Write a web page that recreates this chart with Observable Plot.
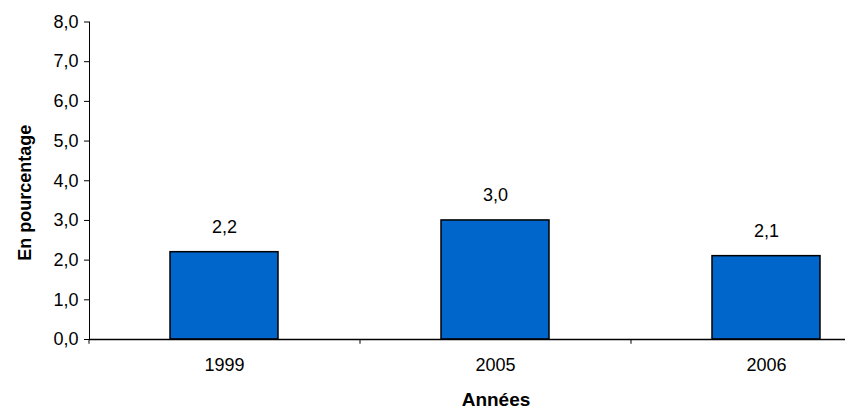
<!DOCTYPE html>
<html>
<head>
<meta charset="utf-8">
<script src="https://cdn.jsdelivr.net/npm/d3@7"></script>
<script src="https://cdn.jsdelivr.net/npm/@observablehq/plot@0.6"></script>
<style>
  html, body { margin: 0; padding: 0; background: #fff; overflow: hidden; }
  #chart { width: 845px; height: 416px; overflow: hidden; }
  #chart svg { font-family: "Liberation Sans", Arial, sans-serif; max-width: none !important; }
</style>
</head>
<body>
<div id="chart"></div>
<script>
// Taux par année (en pourcentage)
const years = ["1999", "2005", "2006"];
const rates = [2.2, 3.0, 2.1];
const yTicks = [0, 1, 2, 3, 4, 5, 6, 7, 8];

const data = years.map((year, i) => ({year, rate: rates[i]}));
const fmt = d => d.toFixed(1).replace(".", ",");

// Layout: the category axis runs past the visible right edge
const W = 905, H = 416;
const mLeft = 89, mRight = 3, mTop = 21.5, mBottom = 77;
const step = (W - mLeft - mRight) / years.length;

const chart = Plot.plot({
  width: W,
  height: H,
  marginLeft: mLeft,
  marginRight: mRight,
  marginTop: mTop,
  marginBottom: mBottom,
  style: {fontSize: "18px", color: "#000", background: "#fff", overflow: "visible"},
  x: {domain: years, paddingInner: 0.6, paddingOuter: 0.3, label: null},
  y: {domain: [0, 8], label: null},
  marks: [
    Plot.barY(data, {x: "year", y: "rate", fill: "#0066CC", stroke: "#000", strokeWidth: 1.5}),
    Plot.text(data, {x: "year", y: "rate", text: d => fmt(d.rate), dy: -25, fontSize: 18, fill: "#000"}),
    // category boundary ticks below the axis
    Plot.ruleX(years, {x: d => d, y1: 0, y2: -0.12, dx: -step / 2, stroke: "#000", strokeWidth: 1}),
    Plot.ruleY([0], {stroke: "#000", strokeWidth: 1.5}),
    Plot.frame({anchor: "left", stroke: "#000", strokeWidth: 1}),
    Plot.axisY(yTicks, {tickSize: 5, tickPadding: 6, tickFormat: fmt, fontSize: 18, label: null}),
    Plot.axisX({tickSize: 0, tickPadding: 19, fontSize: 18, label: null}),
    Plot.text(["En pourcentage"], {frameAnchor: "left", textAnchor: "middle", rotate: -90, dx: -64, dy: 12, fontWeight: "bold", fontSize: 18}),
    Plot.text(["Années"], {frameAnchor: "bottom", dy: 66, fontWeight: "bold", fontSize: 19, letterSpacing: "1px"})
  ]
});

document.getElementById("chart").appendChild(chart);
</script>
</body>
</html>
